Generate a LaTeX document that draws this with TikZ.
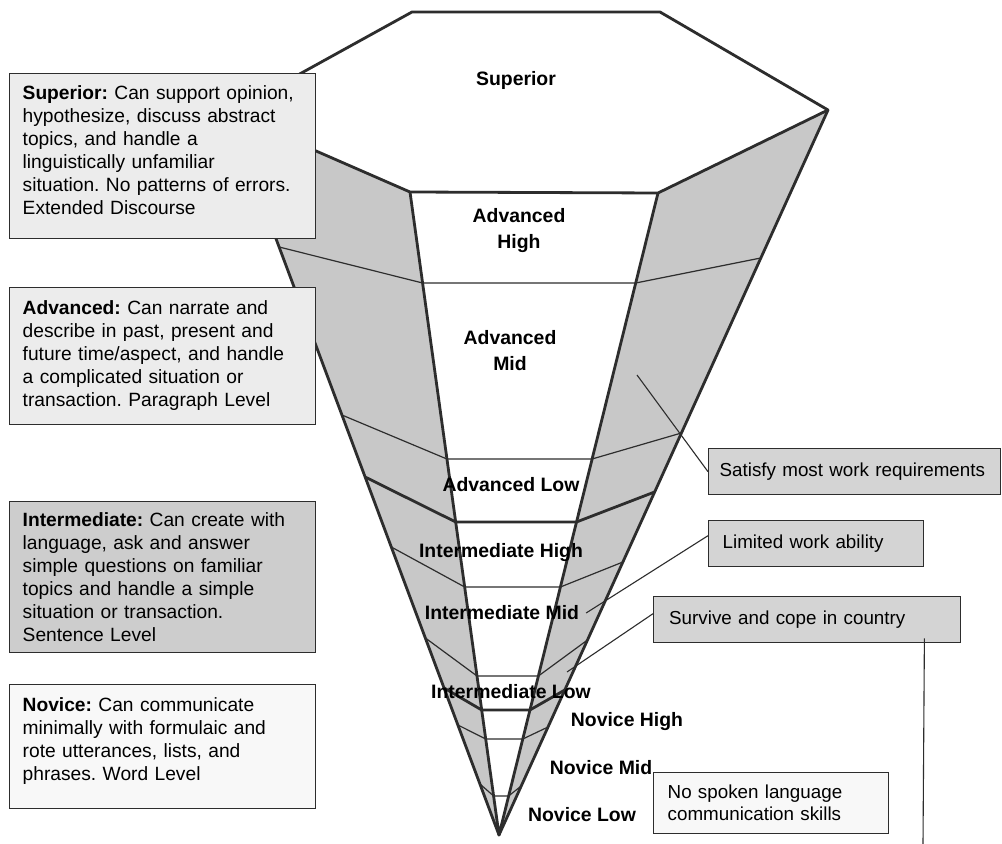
\documentclass[tikz,border=0pt]{standalone}
\usepackage{fontspec}
\setmainfont{Liberation Sans}
\usetikzlibrary{positioning}
\definecolor{BandGray}{RGB}{200,200,200}
\definecolor{EdgeGray}{RGB}{45,45,45}
\definecolor{BoxLight}{RGB}{236,236,236}
\definecolor{BoxMid}{RGB}{205,205,205}
\definecolor{BoxPale}{RGB}{248,248,248}
\definecolor{TagGray}{RGB}{212,212,212}
\frenchspacing
\newcommand{\tailgap}[1]{\rule[-#1]{0pt}{#1}}
\tikzset{
  levelbox/.style={draw=EdgeGray,line width=0.7pt,anchor=north west,
    text width=140pt,inner xsep=6.5pt,align=left,
    font=\frenchspacing\fontsize{9.6}{11.5}\selectfont},
  tagbox/.style={draw=EdgeGray,line width=0.7pt,fill=TagGray,anchor=north west,
    minimum height=23pt,inner xsep=7pt,align=left,
    font=\frenchspacing\fontsize{9.4}{11}\selectfont},
  lvl/.style={font=\bfseries\fontsize{9.7}{13}\selectfont,align=center},
  rim/.style={line width=1.4pt,line join=round,EdgeGray},
  cut/.style={line width=0.6pt,EdgeGray},
  cutbold/.style={line width=1.4pt,EdgeGray},
  callout/.style={line width=0.55pt,EdgeGray}
}

\begin{document}
\begin{tikzpicture}[x=0.5pt,y=-0.5pt]
  \useasboundingbox[fill=white] (0,0) rectangle (1002,844);
  \coordinate (tl) at (412,12);
  \coordinate (tr) at (660,12);
  \coordinate (vr) at (828,110);
  \coordinate (ir) at (658,193);
  \coordinate (il) at (410,192);
  \coordinate (vl) at (229,113);
  \coordinate (tip) at (499,835);
  \fill[BandGray] (vl) -- (il) -- (tip) -- cycle;
  \fill[BandGray] (vr) -- (ir) -- (tip) -- cycle;
  \draw[cut] (279.1,247) -- (422.6,283) -- (635.7,283) -- (760.8,258);
  \draw[cut] (341.9,415) -- (446.9,459) -- (592.1,459) -- (681.4,433);
  \draw[cutbold] (365.1,477) -- (455.7,522) -- (576.5,522) -- (654.6,492);
  \draw[cut] (391.3,547) -- (464.7,587) -- (560.4,587) -- (622.9,562);
  \draw[cut] (425.4,638) -- (477,676) -- (538.4,676) -- (587.5,640);
  \draw[cutbold] (444.1,688) -- (481.7,710) -- (529.9,710) -- (564.8,690);
  \draw[cut] (457.9,725) -- (485.7,739) -- (522.8,739) -- (548,727);
  \draw[cut] (480,784) -- (493.6,796) -- (508.6,796) -- (521.2,786);
  \draw[rim] (tl) -- (tr) -- (vr) -- (ir) -- (il) -- (vl) -- cycle;
  \draw[rim] (vl) -- (tip) -- (vr);
  \draw[rim] (il) -- (tip) -- (ir);

  \node[lvl] (lsup) at (516,80) {Superior};
  \node[lvl] (lah) at (519,231) {Advanced\\High};
  \node[lvl] (lam) at (510,351) {Advanced\\Mid};
  \node[lvl] (lal) at (511,485) {Advanced Low};
  \node[lvl] (lih) at (501,553) {Intermediate High};
  \node[lvl] (lim) at (502,613) {Intermediate Mid};
  \node[lvl] (lil) at (511,692) {Intermediate Low};
  \node[lvl] (lnh) at (627,722) {Novice High};
  \node[lvl] (lnm) at (601,768) {Novice Mid};
  \node[lvl] (lnl) at (582,815) {Novice Low};

  \node[levelbox,fill=BoxLight,minimum height=82.5pt] (superior) at (9,73)
    {\textbf{Superior:} Can support opinion,\\hypothesize, discuss abstract\\topics, and handle a\\linguistically unfamiliar\\situation. No patterns of errors.\\Extended Discourse\tailgap{6pt}};
  \node[levelbox,fill=BoxLight,minimum height=68.5pt] (advanced) at (9,287)
    {\textbf{Advanced:} Can narrate and\\describe in past, present and\\future time/aspect, and handle\\a complicated situation or\\transaction. Paragraph Level\tailgap{3pt}};
  \node[levelbox,fill=BoxMid,minimum height=75.5pt] (intermediate) at (9,501)
    {\textbf{Intermediate:} Can create with\\language, ask and answer\\simple questions on familiar\\topics and handle a simple\\situation or transaction.\\Sentence Level};
  \node[levelbox,fill=BoxPale,minimum height=62pt] (novice) at (9,684)
    {\textbf{Novice:} Can communicate\\minimally with formulaic and\\rote utterances, lists, and\\phrases. Word Level\tailgap{8pt}};

  \node[tagbox,text width=135pt,inner xsep=5.5pt] (satisfy) at (708,448) {Satisfy most work requirements};
  \node[tagbox,text width=93.5pt] (limited) at (708,520) {Limited work ability};
  \node[tagbox,text width=138pt,inner xsep=7.75pt] (survive) at (653,596) {Survive and cope in country};
  \node[tagbox,fill=BoxPale,text width=103.5pt,minimum height=30.5pt] (nospeak) at (653,772) {No spoken language\\communication skills};

  \coordinate (bandPt) at (637,375);
  \coordinate (lowPt) at (567,672);
  \coordinate (dropTop) at ([xshift=-18.5pt,yshift=2.5pt]survive.south east);
  \coordinate (dropEnd) at (923,844);
  \draw[callout] (satisfy.west) -- (bandPt);
  \draw[callout] ([yshift=4pt]limited.west) -- (lim.east);
  \draw[callout] ([yshift=3pt]survive.west) -- (lowPt);
  \draw[callout] (dropTop) -- (dropEnd);
\end{tikzpicture}
\end{document}
